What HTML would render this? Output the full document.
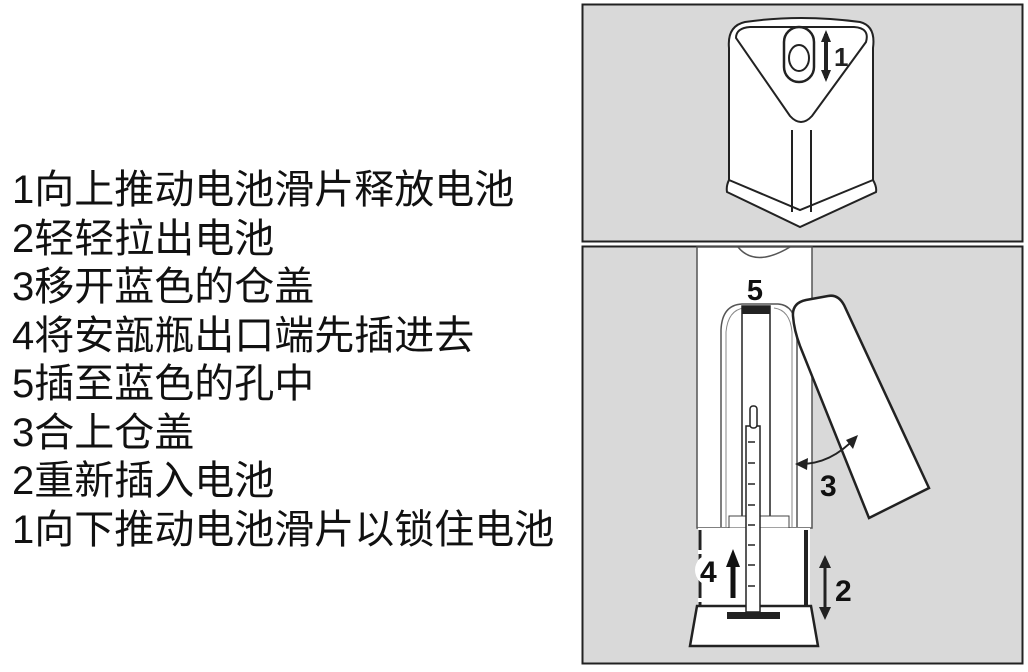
<!DOCTYPE html>
<html><head><meta charset="utf-8"><style>
html,body{margin:0;padding:0;background:#fff;width:1028px;height:672px;overflow:hidden}
.t{position:absolute;left:12px;top:166px;font-family:"Liberation Sans","Noto Sans CJK SC",sans-serif;font-size:40px;line-height:48.5px;color:#111;white-space:nowrap}
svg{position:absolute;left:0;top:0}
</style></head><body>
<div class="t">1向上推动电池滑片释放电池<br>2轻轻拉出电池<br>3移开蓝色的仓盖<br>4将安瓿瓶出口端先插进去<br>5插至蓝色的孔中<br>3合上仓盖<br>2重新插入电池<br>1向下推动电池滑片以锁住电池</div>
<svg width="1028" height="672" viewBox="0 0 1028 672" font-family="Liberation Sans, sans-serif" font-weight="bold">
<!-- top panel -->
<rect x="582.5" y="4.5" width="440" height="237" fill="#d9d9d9" stroke="#222" stroke-width="2"/>
<path d="M729 48 Q727 26 745 22 Q800 14 860 22 Q876 26 873 48 L873 180 Q877 187 876 192 L800 227 L727 192 Q726 186 729 180 Z" fill="#fff" stroke="#222" stroke-width="2"/>
<path d="M736 38 Q736 28 750 27 L854 27 Q870 28 866 42 L812 116 Q801 128 790 116 Z" fill="none" stroke="#222" stroke-width="2"/>
<path d="M729 180 L800 210 L873 180" fill="none" stroke="#222" stroke-width="2"/>
<line x1="792" y1="130" x2="792" y2="212" stroke="#222" stroke-width="2"/>
<line x1="811" y1="130" x2="811" y2="212" stroke="#222" stroke-width="2"/>
<rect x="784" y="27" width="30" height="55" rx="15" fill="#fff" stroke="#222" stroke-width="2.5"/>
<ellipse cx="799" cy="58" rx="10" ry="13" fill="none" stroke="#222" stroke-width="2"/>
<line x1="826" y1="34" x2="826" y2="78" stroke="#222" stroke-width="4"/>
<polygon points="826,30 821,42 831,42" fill="#222"/><polygon points="826,82 821,70 831,70" fill="#222"/>
<text x="834" y="66" font-size="26" fill="#222">1</text>
<!-- bottom panel -->
<rect x="582.5" y="246.5" width="440" height="417" fill="#d9d9d9" stroke="#222" stroke-width="2"/>
<rect x="697" y="247" width="115" height="281" fill="#fff" stroke="#555" stroke-width="1.5"/>
<path d="M738 247 Q755 268 790 247" fill="none" stroke="#555" stroke-width="1.5"/>
<path d="M721 527 L721 330 Q722 305 742 304 L778 304 Q795 305 797 330 L797 527" fill="#fff" stroke="#555" stroke-width="1.5"/>
<path d="M726 527 L726 332 Q728 310 744 308 M792 527 L792 332 Q790 310 774 308" fill="none" stroke="#888" stroke-width="1"/>
<rect x="742" y="306" width="28" height="221" fill="#fff" stroke="#222" stroke-width="1.5"/>
<rect x="742" y="306" width="28" height="8" fill="#222"/>
<text x="755" y="300" font-size="29" fill="#111" text-anchor="middle">5</text>
<rect x="729" y="516" width="60" height="12" fill="#fff" stroke="#444" stroke-width="1"/>
<rect x="698" y="528" width="112" height="80" fill="#fff" stroke="none"/>
<line x1="700" y1="530" x2="700" y2="608" stroke="#222" stroke-width="3" stroke-dasharray="20 4"/>
<line x1="806" y1="530" x2="806" y2="608" stroke="#222" stroke-width="4"/>
<path d="M697 606 L811 606 L818 646 L690 646 Z" fill="#fff" stroke="#222" stroke-width="2.5"/>
<rect x="727" y="612" width="53" height="7" fill="#222"/>
<rect x="746" y="426" width="14" height="186" fill="#fff" stroke="#222" stroke-width="1.5"/>
<rect x="750" y="406" width="7" height="22" rx="3" fill="#fff" stroke="#222" stroke-width="1.5"/>
<g stroke="#222" stroke-width="1.5">
<line x1="748" y1="442" x2="755" y2="442"/><line x1="748" y1="463" x2="755" y2="463"/><line x1="748" y1="484" x2="755" y2="484"/><line x1="748" y1="505" x2="755" y2="505"/><line x1="748" y1="525" x2="755" y2="525"/><line x1="748" y1="545" x2="755" y2="545"/><line x1="748" y1="565" x2="755" y2="565"/><line x1="748" y1="586" x2="755" y2="586"/></g>
<circle cx="711" cy="570" r="16" fill="#fff"/>
<text x="700" y="582" font-size="30" fill="#111">4</text>
<line x1="733" y1="565" x2="733" y2="598" stroke="#111" stroke-width="5"/>
<polygon points="733,549 726,567 740,567" fill="#111"/>
<line x1="825" y1="562" x2="825" y2="610" stroke="#222" stroke-width="3"/>
<polygon points="825,555 819,568 831,568" fill="#222"/><polygon points="825,620 819,607 831,607" fill="#222"/>
<text x="835" y="601" font-size="30" fill="#111">2</text>
<path d="M793 316 Q792 303 806 300 L828 296 Q838 294 844 305 L929 488 L869 518 L800 346 Q794 330 793 316 Z" fill="#fff" stroke="#222" stroke-width="2.5"/>
<path d="M798 464 Q830 465 855 438" fill="none" stroke="#222" stroke-width="2"/>
<polygon points="795,464 808,458 807,470" fill="#222"/><polygon points="858,435 846,440 853,449" fill="#222"/>
<text x="820" y="496" font-size="30" fill="#111">3</text>
</svg>
</body></html>
